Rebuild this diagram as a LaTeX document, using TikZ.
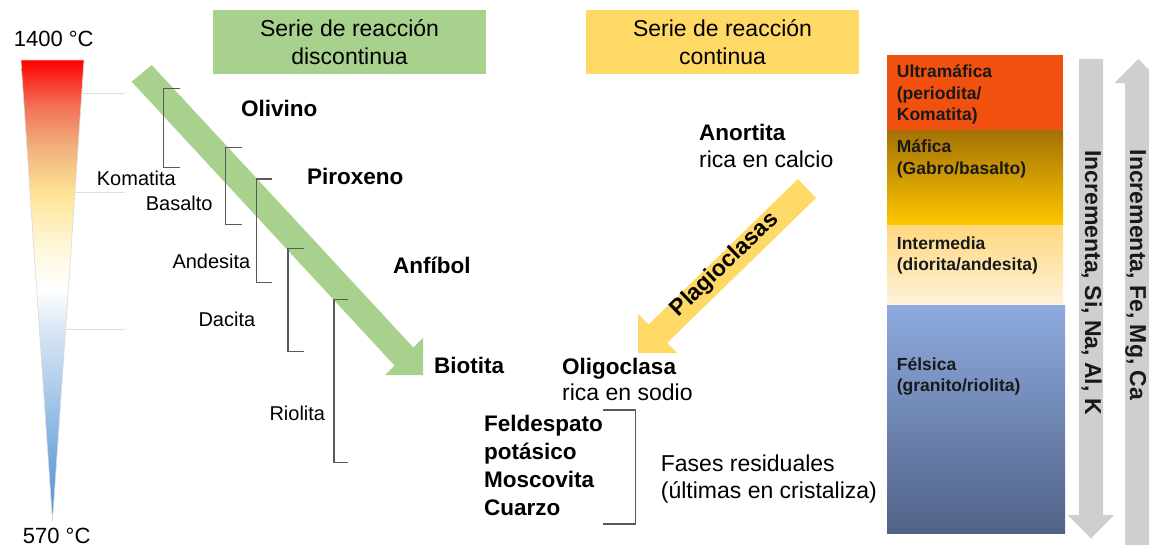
\documentclass[tikz,border=0pt]{standalone}
\usepackage{fontspec}
\setmainfont{Liberation Sans}
\definecolor{grn}{RGB}{169,209,142}
\definecolor{ylw}{RGB}{255,217,102}
\definecolor{garr}{RGB}{208,206,206}
\definecolor{ultra}{RGB}{242,80,15}
\definecolor{mafA}{RGB}{163,113,5}
\definecolor{mafB}{RGB}{255,198,0}
\definecolor{intA}{RGB}{255,215,125}
\definecolor{intB}{RGB}{255,243,220}
\definecolor{felA}{RGB}{142,170,222}
\definecolor{felB}{RGB}{80,98,135}
\definecolor{tA}{RGB}{255,0,0}
\definecolor{tB}{RGB}{242,110,85}
\definecolor{tC}{RGB}{240,175,125}
\definecolor{tD}{RGB}{255,228,150}
\definecolor{tE}{RGB}{255,245,212}
\definecolor{tF}{RGB}{255,255,255}
\definecolor{tG}{RGB}{218,230,245}
\definecolor{tH}{RGB}{165,198,232}
\definecolor{tI}{RGB}{110,165,218}
\definecolor{tJ}{RGB}{88,148,210}
\pgfdeclareverticalshading{tempgrad}{100bp}{color(0bp)=(tJ); color(25bp)=(tJ); color(30.7bp)=(tI); color(38.2bp)=(tH); color(45.8bp)=(tG); color(50.2bp)=(tF); color(55.4bp)=(tE); color(60.4bp)=(tD); color(65.7bp)=(tC); color(70.2bp)=(tB); color(75bp)=(tA); color(100bp)=(tA)}
\tikzset{
  lbl/.style={font=\fontsize{22.5}{27}\selectfont\bfseries, anchor=base west, inner sep=0pt},
  rock/.style={font=\fontsize{20}{24}\selectfont, anchor=base west, inner sep=0pt},
  txt/.style={font=\fontsize{23}{28}\selectfont, anchor=base west, inner sep=0pt},
  boxt/.style={font=\fontsize{17.5}{21}\selectfont\bfseries, anchor=base west, inner sep=0pt, text=black!90},
  temp/.style={font=\fontsize{22}{26}\selectfont, anchor=base, inner sep=0pt},
  titlebox/.style={font=\fontsize{23}{28}\selectfont, align=center, minimum width=273pt, minimum height=64pt, inner sep=0pt},
  brk/.style={draw=black!65, line width=1.1pt},
  gridl/.style={draw=black!12, line width=0.7pt},
  incr/.style={font=\fontsize{23}{28}\selectfont\bfseries, rotate=-90, anchor=base, inner sep=0pt, text=black!90}
}
\begin{document}
\begin{tikzpicture}[x=1pt,y=-1pt]
\useasboundingbox (0,0) rectangle (1149,544);
\fill[white] (0,0) rectangle (1149,544);

% temperature wedge
\shadedraw[shading=tempgrad, draw=black!15, line width=0.6pt] (21,60) -- (84,60) -- (52.5,521) -- cycle;
\draw[gridl] (82,93) -- (125,93);
\draw[gridl] (75,192) -- (125,192);
\draw[gridl] (66,329) -- (125,329);
\node[temp] (thot) at (53.7,46.8) {1400 °C};
\node[temp] (tcold) at (56.7,543) {570 °C};

% title boxes
\node[titlebox, fill=grn] (tdisc) at (349.5,42) {Serie de reacción\\discontinua};
\node[titlebox, fill=ylw] (tcont) at (722.5,42) {Serie de reacción\\continua};

% green arrow (discontinuous series)
\fill[grn] (151.7,65) -- (413.3,347.5) -- (423,338) -- (423,375) -- (385,375) -- (394.6,365.6) -- (131.7,81.7) -- cycle;

% brackets for volcanic rocks
\draw[brk] (180,88.3) -- (163.3,88.3) -- (163.3,167.3) -- (180,167.3);
\draw[brk] (242,147.3) -- (225.7,147.3) -- (225.7,224.3) -- (242,224.3);
\draw[brk] (272,179) -- (256.7,179) -- (256.7,282.7) -- (272,282.7);
\draw[brk] (304,248.3) -- (288,248.3) -- (288,351.7) -- (304,351.7);
\draw[brk] (347.7,299.7) -- (334,299.7) -- (334,462.3) -- (347.7,462.3);

\node[rock] (komatita) at (96.7,185.7) {Komatita};
\node[rock] (basalto) at (145.7,210) {Basalto};
\node[rock] (andesita) at (172.3,268.3) {Andesita};
\node[rock] (dacita) at (198.3,326.7) {Dacita};
\node[rock] (riolita) at (269.3,420) {Riolita};

\node[lbl] (olivino) at (241,116) {Olivino};
\node[lbl] (piroxeno) at (307,184.5) {Piroxeno};
\node[lbl] (anfibol) at (393,273.5) {Anfíbol};
\node[lbl] (biotita) at (434,373.3) {Biotita};

% continuous series
\node[lbl] (anortita) at (699,140.5) {Anortita};
\node[txt] (calcio) at (699,167.7) {rica en calcio};
\fill[ylw] (798,179) -- (816,198) -- (667,343) -- (677,353) -- (638,353) -- (638,314) -- (648.5,324.5) -- cycle;
\node[font=\fontsize{23}{28}\selectfont\bfseries, rotate=44, inner sep=0pt] (plag) at (725,265) {Plagioclasas};
\node[lbl] (oligo) at (562,374) {Oligoclasa};
\node[txt] (sodio) at (562,400) {rica en sodio};

% residual phases
\node[lbl] (felds) at (484,431.5) {Feldespato};
\node[lbl] (potas) at (484,459) {potásico};
\node[lbl] (mosc) at (484,487) {Moscovita};
\node[lbl] (cuarzo) at (484,515) {Cuarzo};
\draw[brk] (603,410) -- (635.7,410) -- (635.7,524) -- (603,524);
\node[txt] (fases) at (660.7,471) {Fases residuales};
\node[txt] (ultimas) at (660.7,498) {(últimas en cristaliza)};

% composition column
\fill[ultra] (887,55) rectangle (1063,130);
\shade[top color=mafA, bottom color=mafB] (887,130) rectangle (1063,225);
\shade[top color=intA, bottom color=intB] (887,225) rectangle (1063,305);
\shade[top color=felA, bottom color=felB] (887,305) rectangle (1065,533);
\node[boxt] (ultraA) at (896.7,77.3) {Ultramáfica};
\node[boxt] (ultraB) at (896.7,99) {(periodita/};
\node[boxt] (ultraC) at (896.7,120) {Komatita)};
\node[boxt] (mafA) at (896.7,152.7) {Máfica};
\node[boxt] (mafB) at (896.7,174) {(Gabro/basalto)};
\node[boxt] (intA) at (896.7,249.3) {Intermedia};
\node[boxt] (intB) at (896.7,270.5) {(diorita/andesita)};
\node[boxt] (felA) at (896.7,370.7) {Félsica};
\node[boxt] (felB) at (896.7,391.7) {(granito/riolita)};

% grey trend arrows
\fill[garr] (1079,59) -- (1103,59) -- (1103,515) -- (1114,515) -- (1091,538.5) -- (1067.5,515) -- (1079,515) -- cycle;
\fill[garr] (1125,550) -- (1125,83) -- (1114.5,83) -- (1138.3,59) -- (1162,83) -- (1151,83) -- (1151,550) -- cycle;
\node[incr] (incSi) at (1085,282.5) {Incrementa, Si, Na, Al, K};
\node[incr] (incFe) at (1130,275) {Incrementa, Fe, Mg, Ca};
\end{tikzpicture}
\end{document}
